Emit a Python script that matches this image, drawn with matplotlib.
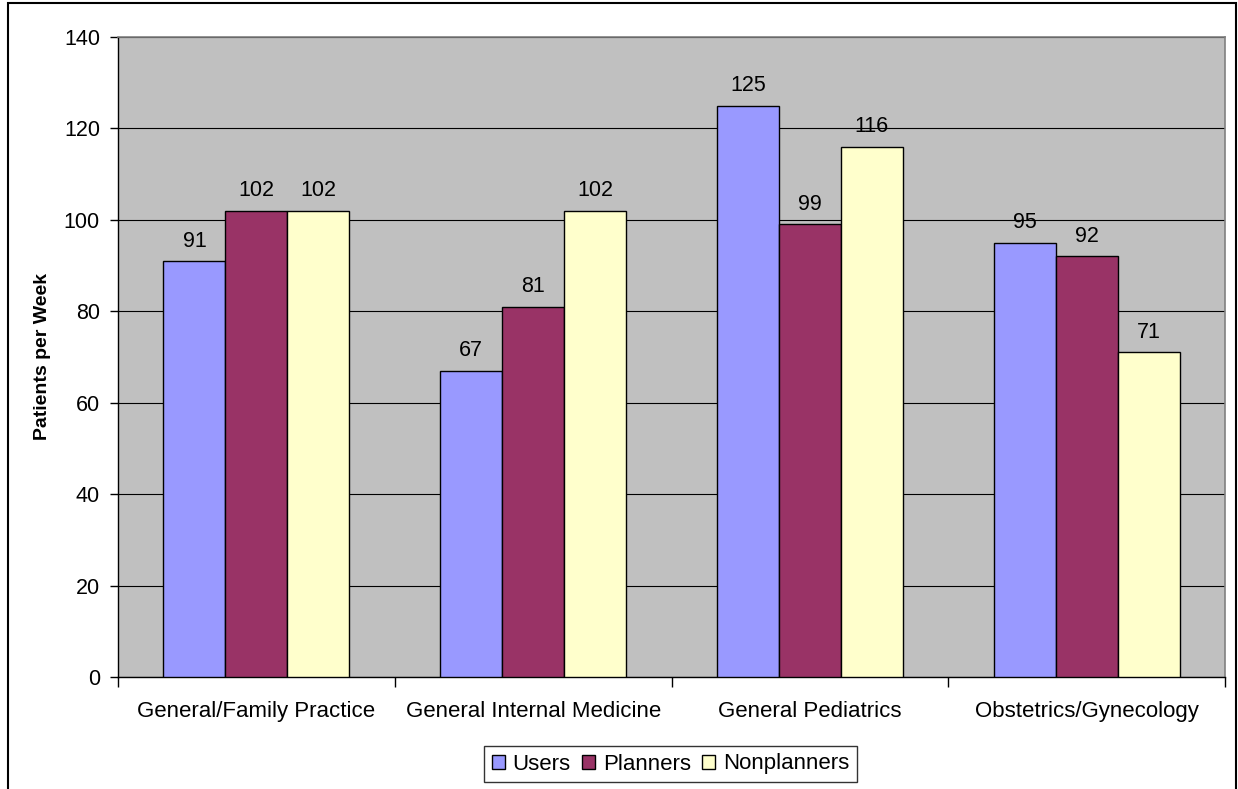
import matplotlib
matplotlib.use("Agg")
import matplotlib.pyplot as plt
import numpy as np
from matplotlib.patches import Rectangle

plt.rcParams['font.family'] = ['Liberation Sans', 'DejaVu Sans']

categories = ["General/Family Practice", "General Internal Medicine",
              "General Pediatrics", "Obstetrics/Gynecology"]
series_names = ["Users", "Planners", "Nonplanners"]
users = [91, 67, 125, 95]
planners = [102, 81, 99, 92]
nonplanners = [102, 102, 116, 71]
colors = ["#9999FF", "#993366", "#FFFFCC"]
yticks = [0, 20, 40, 60, 80, 100, 120, 140]

W, H = 1238, 789
fig = plt.figure(figsize=(W / 100, H / 100), dpi=100)
ax = fig.add_axes([118 / W, 1 - 677 / H, (1225 - 118) / W, (677 - 37) / H])
ax.set_facecolor("#C0C0C0")

x = np.arange(len(categories))
bw = 0.224
for i, (vals, name, c) in enumerate(zip([users, planners, nonplanners], series_names, colors)):
    pos = x + (i - 1) * bw
    ax.bar(pos, vals, bw, color=c, edgecolor="black", linewidth=1.0, label=name, zorder=3)
    for p, v in zip(pos, vals):
        ax.annotate(str(v), (p, v), xytext=(0, 10.3), textcoords="offset points",
                    ha="center", va="baseline", fontsize=15.5, zorder=4)

ax.set_xlim(-0.5, len(categories) - 0.5)
ax.set_ylim(0, 140)
ax.set_yticks(yticks)
ax.tick_params(axis="y", labelsize=15.5, length=6, width=1, direction="out", pad=7)
ax.yaxis.grid(True, color="black", linewidth=0.8, zorder=1)
ax.set_axisbelow(True)

ax.set_xticks(np.arange(len(categories) + 1) - 0.5, minor=False)
ax.set_xticklabels([""] * (len(categories) + 1))
ax.set_xticks(x, minor=True)
ax.set_xticklabels(categories, minor=True)
ax.tick_params(axis="x", which="major", length=7, width=1, direction="out")
ax.tick_params(axis="x", which="minor", length=0, labelsize=16, pad=17)

ax.set_ylabel("Patients per Week", fontsize=14, fontweight="bold")
ax.yaxis.set_label_coords((51 - 118) / (1225 - 118), 0.5)

for s in ["left", "bottom"]:
    ax.spines[s].set_color("black")
    ax.spines[s].set_linewidth(1)
for s in ["top", "right"]:
    ax.spines[s].set_color("#808080")
    ax.spines[s].set_linewidth(1.2)

leg = ax.legend(loc="center", bbox_to_anchor=((670.5 - 118) / (1225 - 118), -(764 - 677) / (677 - 37)),
                ncol=3, fontsize=16, frameon=True, fancybox=False, edgecolor="black",
                handlelength=0.6, handleheight=0.6, handletextpad=0.35, columnspacing=0.5,
                borderpad=0.35, borderaxespad=0)
leg.get_frame().set_linewidth(1)
for h in leg.legend_handles:
    h.set_edgecolor("black")
    h.set_linewidth(1)

fig.patches.append(Rectangle((8 / W, -0.05), (1236 - 8) / W, 1.05 - 3 / H, transform=fig.transFigure,
                             fill=False, edgecolor="black", linewidth=1.5))

fig.savefig("out.png", dpi=100, facecolor="white")
